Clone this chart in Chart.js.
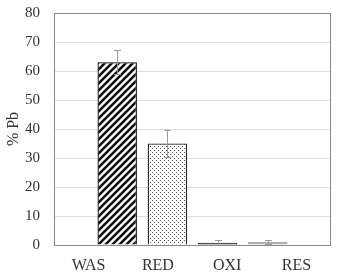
<!DOCTYPE html>
<html>
<head>
<meta charset="utf-8">
<script src="https://cdn.jsdelivr.net/npm/chart.js@4"></script>
<style>
  html, body { margin: 0; padding: 0; background: #fff; }
  #wrap { width: 337px; height: 276px; position: relative; }
</style>
</head>
<body>
<div id="wrap"><canvas id="c" width="337" height="276"></canvas></div>
<script>
// ---- data ----
const categories = ['WAS', 'RED', 'OXI', 'RES'];
const values = [63.0, 35.0, 0.8, 1.0];
const errors = [4.1, 4.8, 0.9, 0.8];
const yTicks = [0, 10, 20, 30, 40, 50, 60, 70, 80];
const yTitle = '% Pb';

// ---- patterns ----
function stripePattern() {
  const s = 7, c = document.createElement('canvas');
  c.width = s; c.height = s;
  const g = c.getContext('2d');
  g.fillStyle = '#fff'; g.fillRect(0, 0, s, s);
  g.strokeStyle = '#111'; g.lineWidth = 2.6; g.lineCap = 'square';
  g.beginPath();
  g.moveTo(0, s); g.lineTo(s, 0);
  g.moveTo(-1, 1); g.lineTo(1, -1);
  g.moveTo(s - 1, s + 1); g.lineTo(s + 1, s - 1);
  g.stroke();
  return g.createPattern(c, 'repeat');
}
function dotPattern() {
  const s = 4, c = document.createElement('canvas');
  c.width = s; c.height = s;
  const g = c.getContext('2d');
  g.fillStyle = '#fff'; g.fillRect(0, 0, s, s);
  g.fillStyle = '#555';
  g.fillRect(0, 0, 1, 1);
  g.fillRect(2, 2, 1, 1);
  return g.createPattern(c, 'repeat');
}
const fills = [stripePattern(), dotPattern(), '#1a1a1a', '#a6a6a6'];
const borders = ['#000', '#222', '#1a1a1a', '#a6a6a6'];

// one dataset per category, in reverse order (as in the source spreadsheet)
const datasets = categories.map((cat, k) => ({
  label: cat,
  data: categories.map((_, j) => (j === k ? values[k] : null)),
  errs: categories.map((_, j) => (j === k ? errors[k] : null)),
  backgroundColor: fills[k],
  borderColor: borders[k],
  borderWidth: 1.3,
  categoryPercentage: 1.1,
  barPercentage: 2.07
})).reverse();

const errorBars = {
  id: 'errorBars',
  afterDatasetsDraw(chart) {
    const ctx = chart.ctx, y = chart.scales.y;
    ctx.save();
    ctx.strokeStyle = '#9a9a9a';
    ctx.lineWidth = 1;
    chart.data.datasets.forEach((ds, di) => {
      const meta = chart.getDatasetMeta(di);
      ds.data.forEach((v, i) => {
        if (v === null) return;
        const e = ds.errs[i];
        const x = Math.round(meta.data[i].x) + 0.5;
        const yt = y.getPixelForValue(v + e);
        const yb = y.getPixelForValue(Math.max(0, v - e));
        ctx.beginPath();
        ctx.moveTo(x, yt); ctx.lineTo(x, yb);
        ctx.moveTo(x - 3.5, Math.round(yt) + 0.5); ctx.lineTo(x + 3.5, Math.round(yt) + 0.5);
        ctx.moveTo(x - 3.5, Math.round(yb) + 0.5); ctx.lineTo(x + 3.5, Math.round(yb) + 0.5);
        ctx.stroke();
      });
    });
    ctx.restore();
  }
};

const plotBorder = {
  id: 'plotBorder',
  afterDraw(chart) {
    const a = chart.chartArea, ctx = chart.ctx;
    ctx.save();
    ctx.strokeStyle = '#8a8a8a';
    ctx.lineWidth = 1;
    ctx.strokeRect(Math.round(a.left) + 0.5, Math.round(a.top) + 0.5,
                   Math.round(a.right - a.left) - 1, Math.round(a.bottom - a.top));
    ctx.restore();
  }
};

new Chart(document.getElementById('c'), {
  type: 'bar',
  data: { labels: categories, datasets },
  options: {
    responsive: false,
    animation: false,
    layout: { padding: { top: 13, right: 6, left: 0, bottom: 0 } },
    plugins: { legend: { display: false }, tooltip: { enabled: false } },
    scales: {
      x: {
        grid: { display: false },
        border: { display: false },
        ticks: {
          color: '#333',
          font: { family: 'Liberation Serif', size: 16 },
          padding: 3,
          maxRotation: 0
        },
        afterFit(s) { s.height = 31; }
      },
      y: {
        min: 0, max: 80,
        afterBuildTicks(s) { s.ticks = yTicks.map(v => ({ value: v })); },
        grid: { color: '#dedede', drawTicks: false, lineWidth: 1 },
        border: { display: false },
        ticks: {
          color: '#333',
          font: { family: 'Liberation Serif', size: 15 },
          padding: 14
        },
        title: {
          display: true,
          text: yTitle,
          color: '#333',
          font: { family: 'Liberation Serif', size: 16 },
          padding: { top: 4, bottom: 0 }
        },
        afterFit(s) { s.width = 54; s.paddingTop = 0; s.paddingBottom = 0; }
      }
    }
  },
  plugins: [errorBars, plotBorder]
});
</script>
</body>
</html>
